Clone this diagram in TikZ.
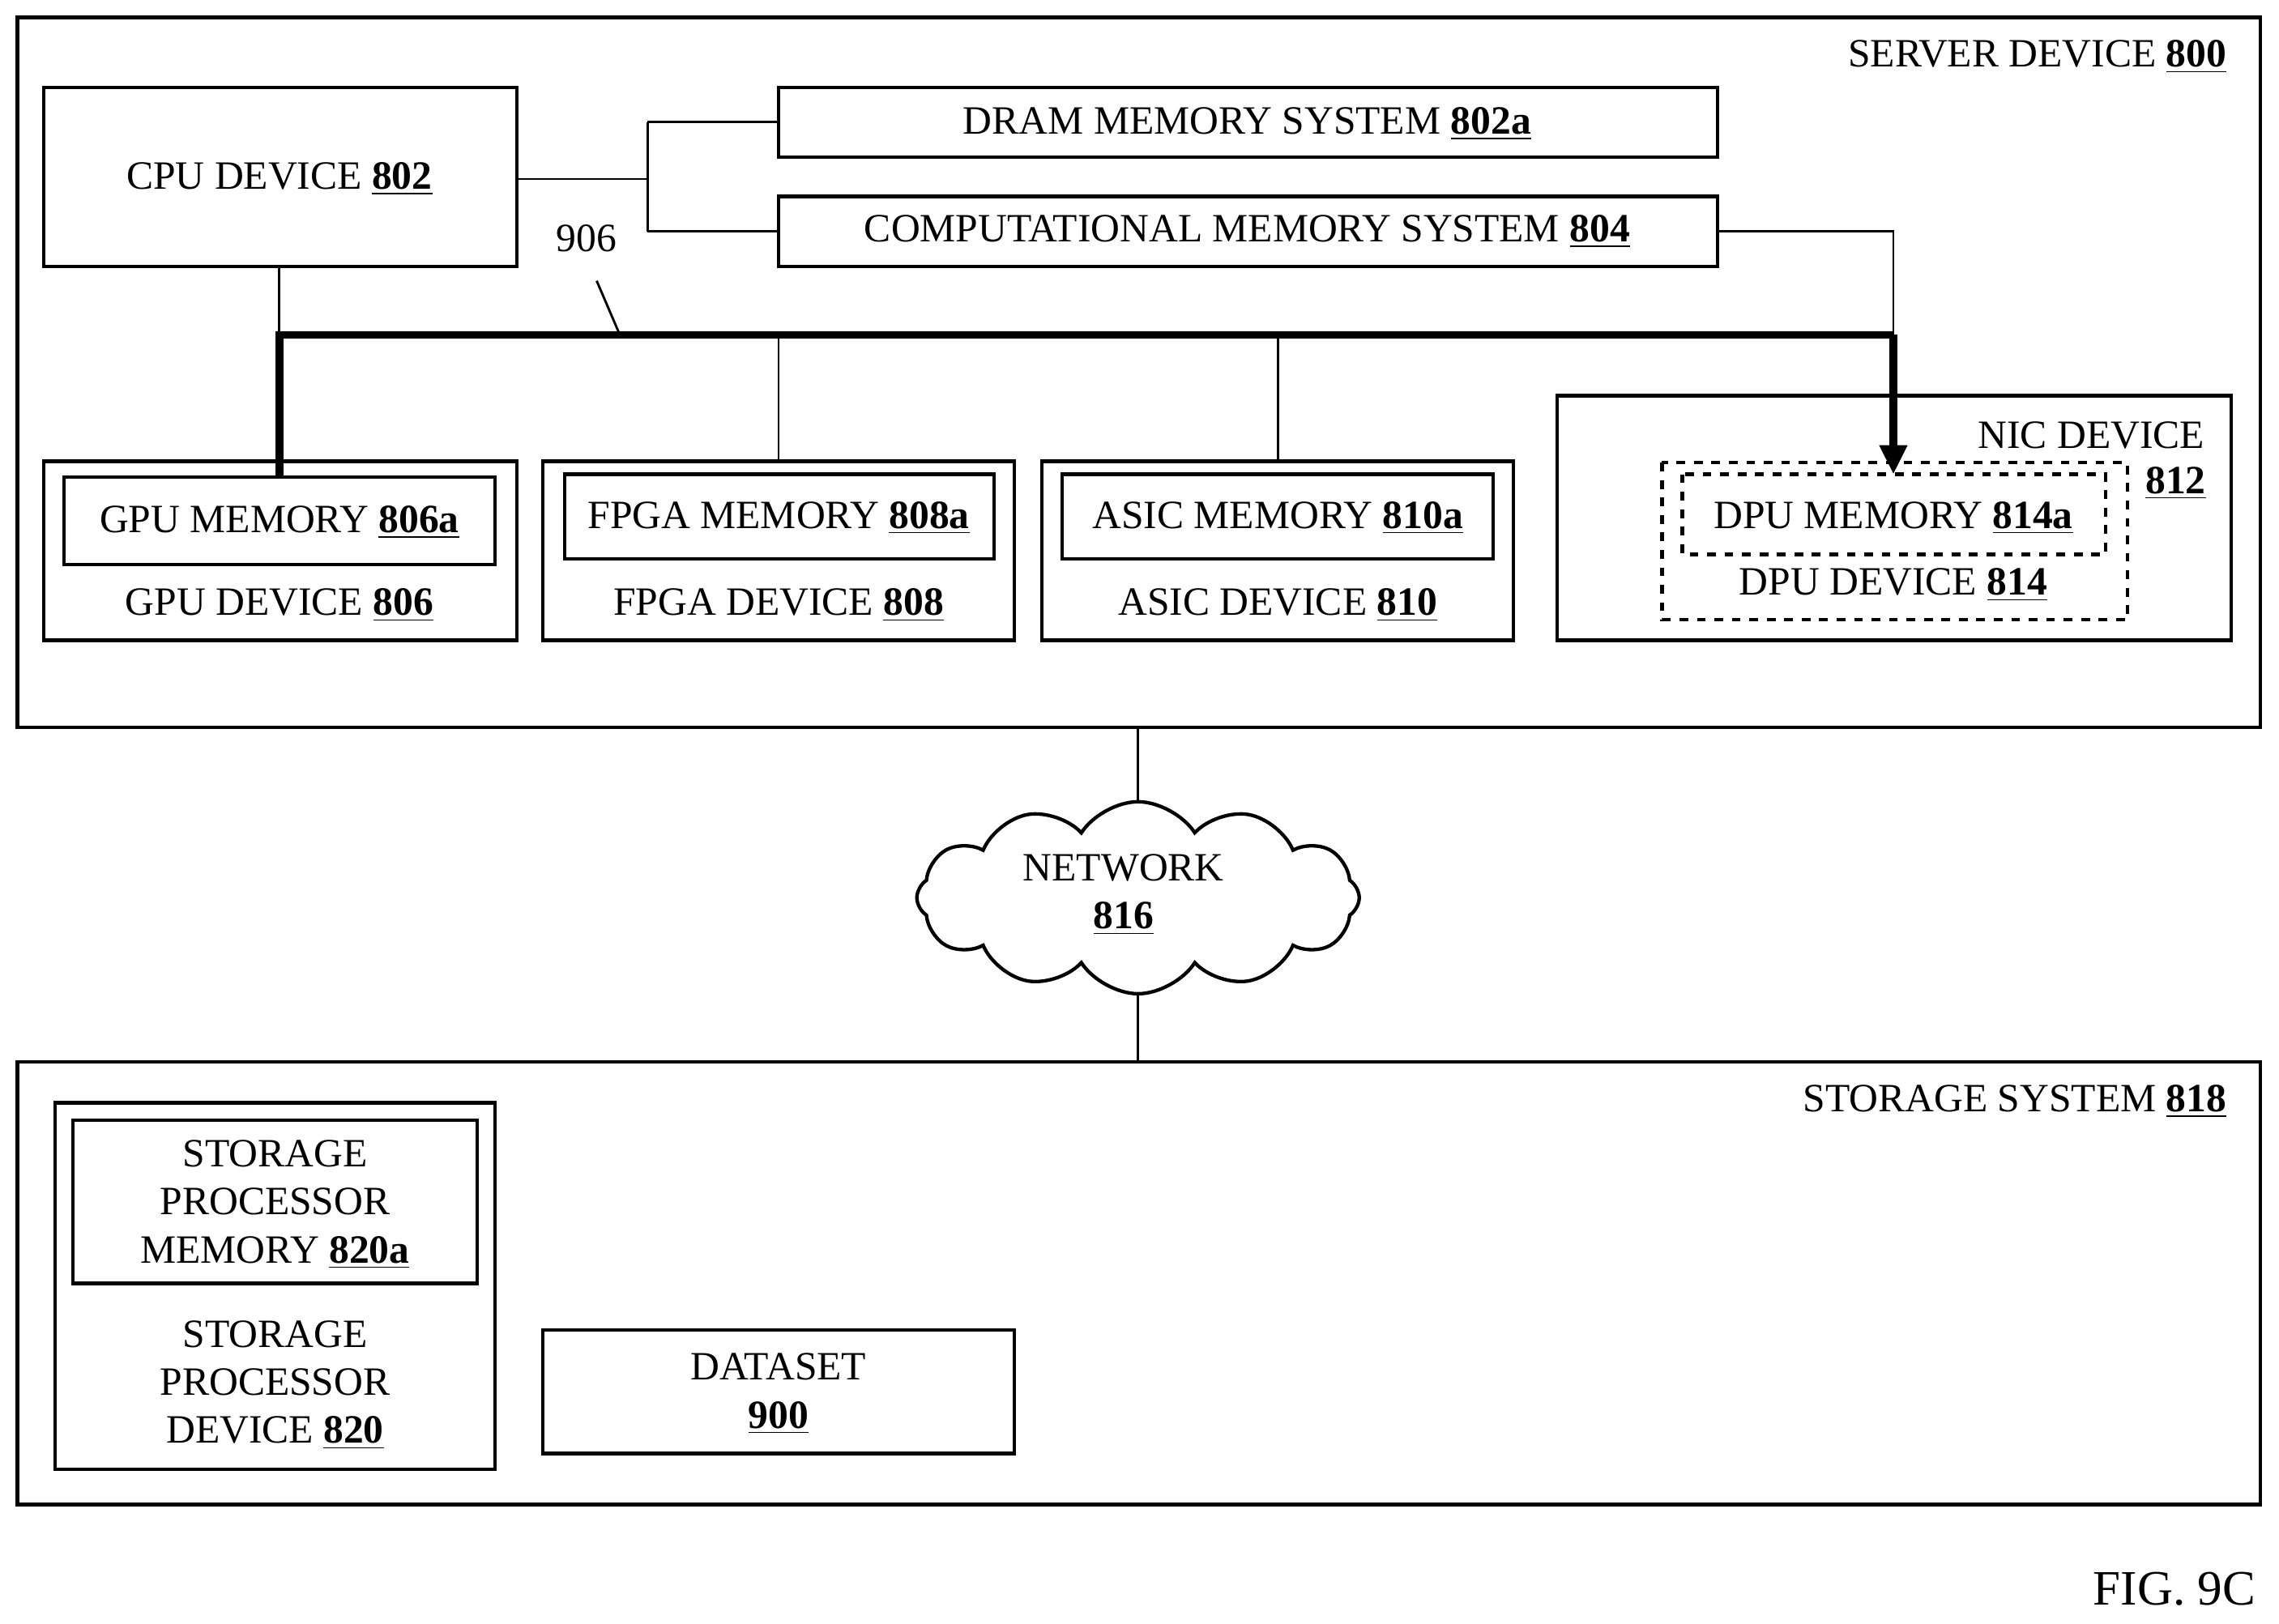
\documentclass[tikz,border=0pt]{standalone}
\usepackage{fontspec}
\setmainfont{Liberation Serif}
\usetikzlibrary{shapes.symbols,arrows.meta}
\newcommand{\refn}[1]{\underline{\textbf{#1}}}
\tikzset{
  box/.style={draw,line width=1.2pt},
  dbox/.style={draw,line width=1.2pt,dashed},
  lbl/.style={font=\fontsize{13.8}{16.5}\selectfont,align=center},
  wire/.style={line width=0.8pt},
  bus/.style={line width=2.6pt}
}
\begin{document}
\begin{tikzpicture}[x=0.5pt,y=-0.5pt]
\useasboundingbox (0,0) rectangle (1566,1116);
% server device
\draw[box] (12,12) rectangle (1553,500);
\node[lbl,anchor=east] (srv) at (1537,39) {SERVER DEVICE \refn{800}};
\draw[box] (30,60) rectangle (355,183);
\node[lbl] (cpu) at (192,123) {CPU DEVICE \refn{802}};
\draw[box] (535,60) rectangle (1180,108);
\node[lbl] (dram) at (857,85) {DRAM MEMORY SYSTEM \refn{802a}};
\draw[box] (535,135) rectangle (1180,183);
\node[lbl] (comp) at (857,159) {COMPUTATIONAL MEMORY SYSTEM \refn{804}};
\coordinate (cpuR) at (355,123);
\coordinate (cpuB) at (192,183);
\coordinate (split) at (445,123);
\draw[wire] (cpuR) -- (split) (445,84) -- (445,159);
\draw[wire] (445,84) -- (535,84) (445,159) -- (535,159);
% bus
\coordinate (busL) at (192,230);
\coordinate (busR) at (1301,230);
\draw[wire] (cpuB) -- (busL);
\draw[wire] (1180,159) -- (1301,159) -- (busR);
\draw[bus] (192,328) -- (busL) -- (busR);
\draw[bus,-{Triangle[length=10pt,width=9pt]}] (busR) -- (1301,326);
\draw[wire] (535,230) -- (535,317) (878,230) -- (878,317);
\node[lbl] (n906) at (403,164) {906};
\draw[wire] (410,193) -- (425,228);
% accelerators
\draw[box] (30,317) rectangle (355,440);
\draw[box] (44,328) rectangle (340,388);
\node[lbl] (gpum) at (192,359) {GPU MEMORY \refn{806a}};
\node[lbl] (gpu) at (192,416) {GPU DEVICE \refn{806}};
\draw[box] (373,317) rectangle (697,440);
\draw[box] (388,326) rectangle (683,384);
\node[lbl] (fpgam) at (535,356) {FPGA MEMORY \refn{808a}};
\node[lbl] (fpga) at (535,416) {FPGA DEVICE \refn{808}};
\draw[box] (716,317) rectangle (1040,440);
\draw[box] (730,326) rectangle (1026,384);
\node[lbl] (asicm) at (878,356) {ASIC MEMORY \refn{810a}};
\node[lbl] (asic) at (878,416) {ASIC DEVICE \refn{810}};
% nic
\draw[box] (1070,272) rectangle (1533,440);
\node[lbl] (nic) at (1437,299) {NIC DEVICE};
\node[lbl] (n812) at (1495,332) {\refn{812}};
\draw[dbox] (1142,318) rectangle (1462,426);
\draw[dbox] (1156,326) rectangle (1447,381);
\node[lbl] (dpum) at (1301,356) {DPU MEMORY \refn{814a}};
\node[lbl] (dpu) at (1301,402) {DPU DEVICE \refn{814}};
% network
\node[cloud,draw,line width=1.2pt,cloud puffs=12,cloud puff arc=115,
  inner sep=0pt,minimum width=152pt,minimum height=66pt] (net) at (782,617) {};
\node[lbl] (netl) at (772,615) {NETWORK\\\refn{816}};
\draw[wire] (782,500) -- (net.north);
\draw[wire] (net.south) -- (782,730);
% storage
\draw[box] (12,730) rectangle (1553,1034);
\node[lbl,anchor=east] (sto) at (1537,757) {STORAGE SYSTEM \refn{818}};
\draw[box] (38,758) rectangle (340,1010);
\draw[box] (50,770) rectangle (328,882);
\node[lbl] (spm) at (189,828) {STORAGE\\PROCESSOR\\MEMORY \refn{820a}};
\node[lbl] (sp) at (189,952) {STORAGE\\PROCESSOR\\DEVICE \refn{820}};
\draw[box] (373,914) rectangle (697,999);
\node[lbl] (data) at (535,958) {DATASET\\\refn{900}};
\node[font=\fontsize{17}{20}\selectfont,anchor=east] (fig) at (1557,1092) {FIG. 9C};
\end{tikzpicture}
\end{document}
